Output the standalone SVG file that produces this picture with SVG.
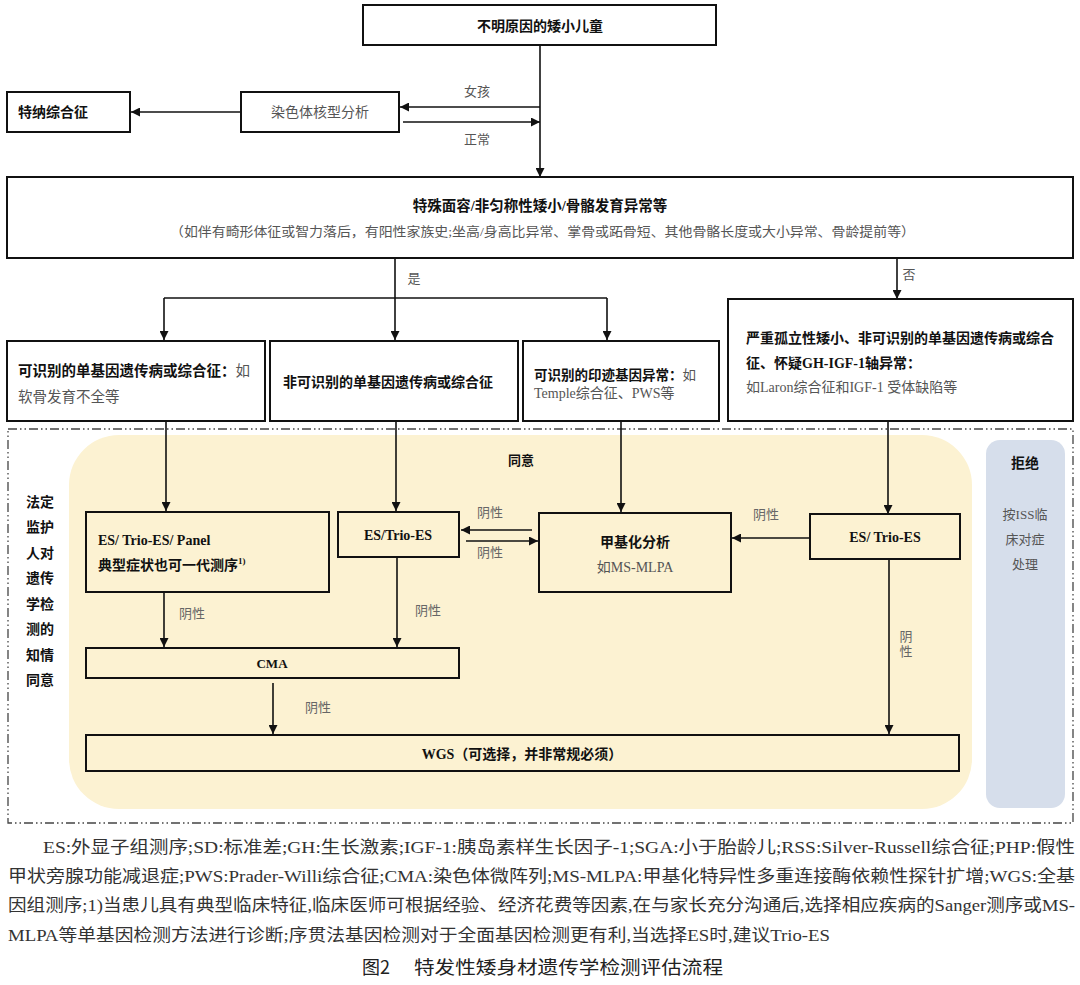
<svg xmlns="http://www.w3.org/2000/svg" width="1080" height="985" viewBox="0 0 1080 985">
<defs>
<style>
text{font-family:"Liberation Serif","Noto Sans CJK SC",serif;fill:#333;}
.b{font-weight:bold;fill:#111;}
.n{fill:#555;}
.box{fill:#fff;stroke:#111;stroke-width:2;}
.ibox{fill:none;stroke:#111;stroke-width:2;}
.c{stroke:#111;stroke-width:1.6;fill:none;}
.lbl{font-size:13px;fill:#666;}
.fn{font-family:"Liberation Serif","Noto Sans CJK SC",serif;font-size:16.5px;fill:#333;}
.cap{font-family:"Noto Sans CJK SC","Liberation Sans",sans-serif;font-size:18px;fill:#222;}
</style>
<marker id="ah" viewBox="0 0 10 10" refX="10" refY="5" markerWidth="10" markerHeight="9" orient="auto" markerUnits="userSpaceOnUse">
<path d="M0,0 L10,5 L0,10 z" fill="#111"/>
</marker>
</defs>
<rect width="1080" height="985" fill="#fff"/>

<!-- background regions -->
<g id="consent-region">
<rect x="8" y="429" width="1065" height="394" fill="none" stroke="#444" stroke-width="1.3" stroke-dasharray="9 3 1.5 3 1.5 3"/>
<rect x="69" y="435" width="903" height="374" rx="50" ry="50" fill="#FCF2D2"/>
<rect x="986" y="440" width="79" height="368" rx="14" ry="14" fill="#D6DEEB"/>
<text x="521" y="465" font-size="13" class="b" text-anchor="middle">同意</text>
<text x="40" font-size="14" class="b" text-anchor="middle"><tspan x="40" y="507">法定</tspan><tspan x="40" y="532">监护</tspan><tspan x="40" y="558">人对</tspan><tspan x="40" y="583">遗传</tspan><tspan x="40" y="609">学检</tspan><tspan x="40" y="634">测的</tspan><tspan x="40" y="660">知情</tspan><tspan x="40" y="685">同意</tspan></text>
</g>
<g id="reject">
<text x="1025" y="468" font-size="14" class="b" text-anchor="middle">拒绝</text>
<text font-size="13" class="n" text-anchor="middle"><tspan x="1025" y="519">按ISS临</tspan><tspan x="1025" y="544">床对症</tspan><tspan x="1025" y="569">处理</tspan></text>
</g>

<g id="connectors">
<path class="c" d="M540,45 V177" marker-end="url(#ah)"/>
<path class="c" d="M540,107 H400" marker-end="url(#ah)"/>
<path class="c" d="M403,122 H540" marker-end="url(#ah)"/>
<path class="c" d="M241,112 H131" marker-end="url(#ah)"/>
<path class="c" d="M395,258 V298"/>
<path class="c" d="M164,298 H607"/>
<path class="c" d="M164,298 V340" marker-end="url(#ah)"/>
<path class="c" d="M395,298 V340" marker-end="url(#ah)"/>
<path class="c" d="M607,298 V340" marker-end="url(#ah)"/>
<path class="c" d="M897,258 V299" marker-end="url(#ah)"/>
<path class="c" d="M166,421 V511" marker-end="url(#ah)"/>
<path class="c" d="M396,421 V511" marker-end="url(#ah)"/>
<path class="c" d="M621,421 V512" marker-end="url(#ah)"/>
<path class="c" d="M888,421 V514" marker-end="url(#ah)"/>
<path class="c" d="M532,530 H461" marker-end="url(#ah)"/>
<path class="c" d="M466,541 H538" marker-end="url(#ah)"/>
<path class="c" d="M810,538 H732" marker-end="url(#ah)"/>
<path class="c" d="M164,592 V647" marker-end="url(#ah)"/>
<path class="c" d="M397,557 V647" marker-end="url(#ah)"/>
<path class="c" d="M273,683 V734" marker-end="url(#ah)"/>
<path class="c" d="M889,559 V734" marker-end="url(#ah)"/>
<text x="477" y="96" font-size="13" class="n" text-anchor="middle">女孩</text>
<text x="477" y="144" font-size="13" class="n" text-anchor="middle">正常</text>
<text x="414" y="283" font-size="13" class="n" text-anchor="middle">是</text>
<text x="909" y="279" font-size="13" class="n" text-anchor="middle">否</text>
<text x="490" y="517" class="lbl" text-anchor="middle">阴性</text>
<text x="490" y="557" class="lbl" text-anchor="middle">阴性</text>
<text x="766" y="519" class="lbl" text-anchor="middle">阴性</text>
<text x="192" y="618" class="lbl" text-anchor="middle">阴性</text>
<text x="428" y="615" class="lbl" text-anchor="middle">阴性</text>
<text x="318" y="712" class="lbl" text-anchor="middle">阴性</text>
<text class="lbl" text-anchor="middle"><tspan x="906" y="641">阴</tspan><tspan x="906" y="656">性</tspan></text>
</g>

<g id="n-start">
<rect class="box" x="363" y="5" width="353" height="40"/>
<text x="540" y="31" font-size="14" class="b" text-anchor="middle">不明原因的矮小儿童</text>
</g>
<g id="n-karyotype">
<rect class="box" x="241" y="92" width="158" height="40"/>
<text x="320" y="117" font-size="14" class="n" text-anchor="middle">染色体核型分析</text>
</g>
<g id="n-turner">
<rect class="box" x="7" y="92" width="123" height="40"/>
<text x="18" y="117" font-size="14" class="b">特纳综合征</text>
</g>
<g id="n-features">
<rect class="box" x="7" y="177" width="1066" height="81"/>
<text x="540" y="211" font-size="14.5" class="b" text-anchor="middle">特殊面容/非匀称性矮小/骨骼发育异常等</text>
<text x="170" y="236" font-size="13" class="n" textLength="745" lengthAdjust="spacingAndGlyphs">（如伴有畸形体征或智力落后，有阳性家族史;坐高/身高比异常、掌骨或跖骨短、其他骨骼长度或大小异常、骨龄提前等）</text>
</g>
<g id="n-A">
<rect class="box" x="7" y="341" width="258" height="80"/>
<text x="18" y="376" font-size="14.5"><tspan class="b">可识别的单基因遗传病或综合征：</tspan><tspan class="n">如</tspan></text>
<text x="18" y="402" font-size="14.5" class="n">软骨发育不全等</text>
</g>
<g id="n-B">
<rect class="box" x="270" y="341" width="248" height="80"/>
<text x="283" y="387" font-size="14" class="b">非可识别的单基因遗传病或综合征</text>
</g>
<g id="n-C">
<rect class="box" x="523" y="341" width="196" height="80"/>
<text x="534" y="380" font-size="13.5"><tspan class="b">可识别的印迹基因异常：</tspan><tspan class="n">如</tspan></text>
<text x="534" y="398" font-size="14" class="n">Temple综合征、PWS等</text>
</g>
<g id="n-D">
<rect class="box" x="728" y="299" width="345" height="122"/>
<text x="746" y="343" font-size="14" class="b">严重孤立性矮小、非可识别的单基因遗传病或综合</text>
<text x="746" y="368" font-size="14" class="b">征、怀疑GH-IGF-1轴异常：</text>
<text x="746" y="392" font-size="14" class="n">如Laron综合征和IGF-1 受体缺陷等</text>
</g>
<g id="n-panel">
<rect class="ibox" x="86" y="512" width="243" height="80"/>
<text x="98" y="545" font-size="14" class="b">ES/ Trio-ES/ Panel</text>
<text x="98" y="570" font-size="14" class="b">典型症状也可一代测序<tspan font-size="9" dy="-6">1)</tspan></text>
</g>
<g id="n-es-mid">
<rect class="ibox" x="338" y="512" width="121" height="45"/>
<text x="398" y="540" font-size="14" class="b" text-anchor="middle">ES/Trio-ES</text>
</g>
<g id="n-methyl">
<rect class="ibox" x="539" y="513" width="192" height="79"/>
<text x="635" y="547" font-size="14" class="b" text-anchor="middle">甲基化分析</text>
<text x="635" y="572" font-size="14" class="n" text-anchor="middle">如MS-MLPA</text>
</g>
<g id="n-es-right">
<rect class="ibox" x="810" y="514" width="150" height="45"/>
<text x="885" y="542" font-size="14" class="b" text-anchor="middle">ES/ Trio-ES</text>
</g>
<g id="n-cma">
<rect class="ibox" x="86" y="648" width="373" height="30"/>
<text x="272" y="668" font-size="13" class="b" text-anchor="middle">CMA</text>
</g>
<g id="n-wgs">
<rect class="ibox" x="86" y="735" width="873" height="36"/>
<text x="522" y="759" font-size="14" class="b" text-anchor="middle">WGS（可选择，并非常规必须）</text>
</g>

<g id="footnote">
<text class="fn" x="43" y="853" textLength="1032" lengthAdjust="spacingAndGlyphs">ES:外显子组测序;SD:标准差;GH:生长激素;IGF-1:胰岛素样生长因子-1;SGA:小于胎龄儿;RSS:Silver-Russell综合征;PHP:假性</text>
<text class="fn" x="8" y="882" textLength="1067" lengthAdjust="spacingAndGlyphs">甲状旁腺功能减退症;PWS:Prader-Willi综合征;CMA:染色体微阵列;MS-MLPA:甲基化特异性多重连接酶依赖性探针扩增;WGS:全基</text>
<text class="fn" x="8" y="911" textLength="1067" lengthAdjust="spacingAndGlyphs">因组测序;1)当患儿具有典型临床特征,临床医师可根据经验、经济花费等因素,在与家长充分沟通后,选择相应疾病的Sanger测序或MS-</text>
<text class="fn" x="8" y="941" textLength="822" lengthAdjust="spacingAndGlyphs">MLPA等单基因检测方法进行诊断;序贯法基因检测对于全面基因检测更有利,当选择ES时,建议Trio-ES</text>
<text class="cap" x="362" y="974">图2</text>
<text class="cap" x="414" y="974" textLength="309" lengthAdjust="spacingAndGlyphs">特发性矮身材遗传学检测评估流程</text>
</g>
</svg>
